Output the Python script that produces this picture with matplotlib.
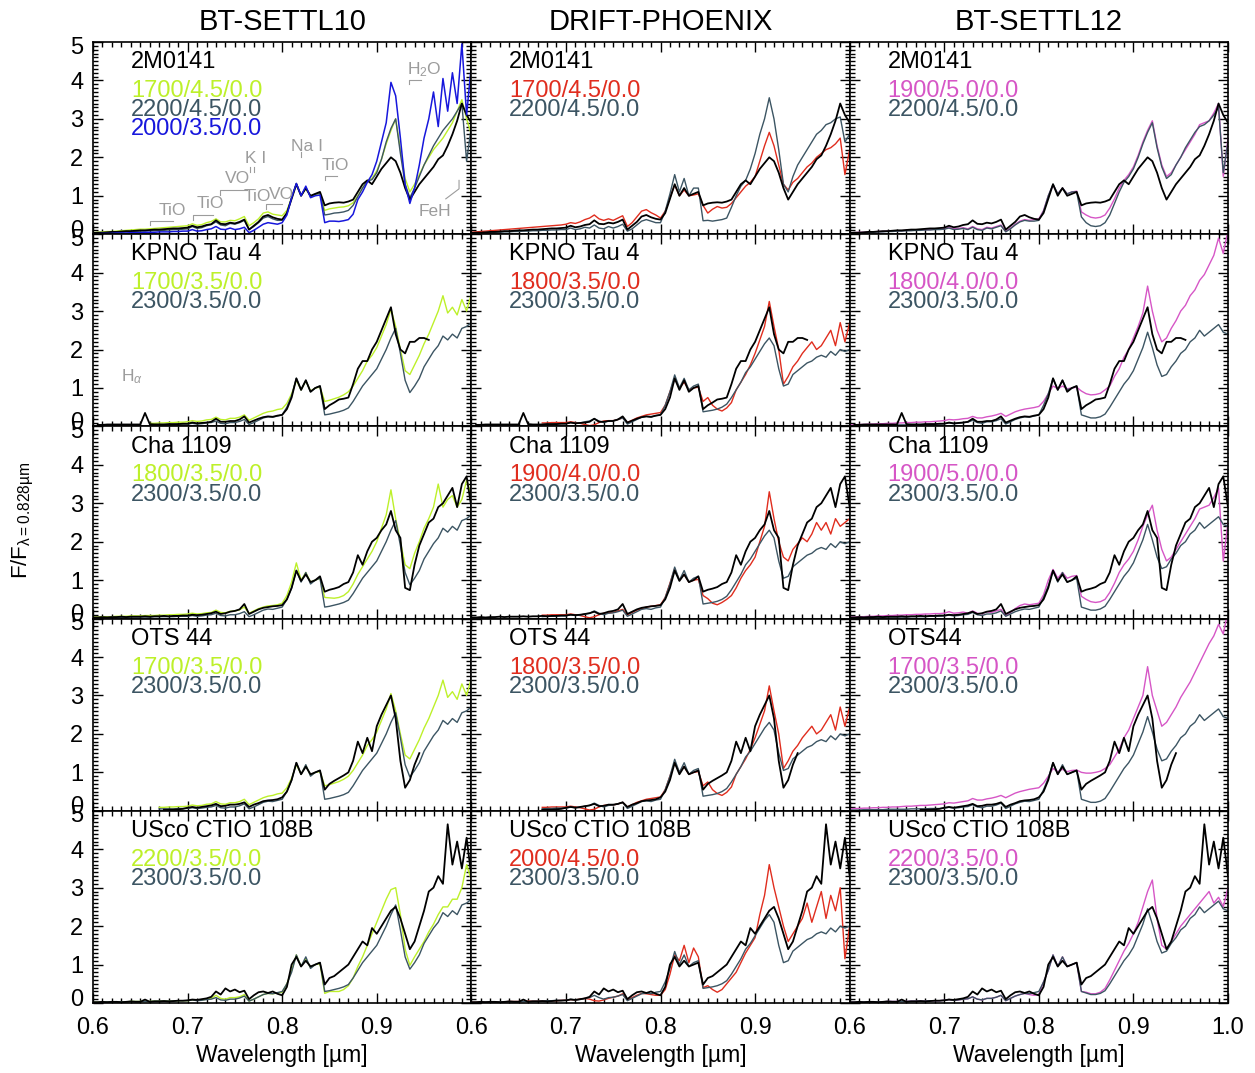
import numpy as np
import matplotlib.pyplot as plt
from matplotlib.ticker import MultipleLocator, FixedLocator
from matplotlib.transforms import ScaledTranslation

plt.rcParams['font.family'] = ['Liberation Sans', 'DejaVu Sans']
plt.rcParams['mathtext.fontset'] = 'custom'
plt.rcParams['mathtext.rm'] = 'Liberation Sans'
plt.rcParams['mathtext.it'] = 'Liberation Sans:italic'

# wavelength grid in micron, fluxes normalised at 0.828 micron
wl = np.round(np.arange(0.600, 1.0001, 0.005), 3)

# ---- observed spectra ----
obs_2m0141 = [0.03, 0.04, 0.04, 0.05, 0.06, 0.06, 0.07, 0.08, 0.08, 0.09,
              0.10, 0.10, 0.11, 0.12, 0.12, 0.13, 0.14, 0.15, 0.15, 0.16,
              0.17, 0.22, 0.18, 0.20, 0.24, 0.26, 0.36, 0.27, 0.26, 0.30,
              0.28, 0.32, 0.38, 0.12, 0.22, 0.32, 0.46, 0.50, 0.44, 0.40,
              0.38, 0.55, 0.92, 1.30, 1.00, 1.20, 1.00, 1.05, 1.10, 0.75,
              0.80, 0.82, 0.83, 0.82, 0.85, 0.90, 1.10, 1.30, 1.40, 1.30,
              1.50, 1.70, 1.85, 2.00, 1.90, 1.60, 1.20, 0.90, 1.10, 1.30,
              1.45, 1.60, 1.75, 1.95, 2.05, 2.30, 2.60, 2.95, 3.40, 3.10,
              2.90]
obs_kpno4 = [0.04, 0.04, 0.04, 0.05, 0.05, 0.05, 0.05, 0.05, 0.05, 0.05,
             0.05, 0.35, 0.06, 0.05, 0.05, 0.05, 0.06, 0.06, 0.06, 0.07,
             0.07, 0.10, 0.08, 0.09, 0.10, 0.12, 0.20, 0.12, 0.12, 0.14,
             0.14, 0.18, 0.26, 0.10, 0.15, 0.20, 0.24, 0.26, 0.25, 0.28,
             0.30, 0.45, 0.75, 1.25, 0.95, 1.20, 0.90, 1.00, 1.05, 0.45,
             0.55, 0.62, 0.70, 0.72, 0.75, 1.10, 1.50, 1.70, 1.70, 2.00,
             2.20, 2.50, 2.80, 3.10, 2.40, 2.00, 1.90, 2.20, 2.20, 2.30,
             2.30, 2.25, 2.30, 2.30, 2.30, 2.30, 2.30, 2.30, 2.30, 2.30,
             2.30]
obs_cha1109 = [0.03, 0.03, 0.04, 0.03, 0.04, 0.04, 0.05, 0.04, 0.05, 0.05,
               0.05, 0.06, 0.05, 0.06, 0.06, 0.07, 0.06, 0.07, 0.07, 0.08,
               0.08, 0.10, 0.09, 0.10, 0.12, 0.14, 0.18, 0.12, 0.14, 0.18,
               0.20, 0.24, 0.38, 0.12, 0.18, 0.24, 0.28, 0.30, 0.32, 0.33,
               0.35, 0.50, 0.80, 1.25, 0.98, 1.15, 0.95, 1.00, 1.10, 0.70,
               0.75, 0.78, 0.82, 0.90, 0.95, 1.20, 1.65, 1.40, 1.75, 2.00,
               2.10, 2.30, 2.45, 2.80, 2.30, 2.10, 0.80, 0.74, 1.40, 1.90,
               2.20, 2.50, 2.60, 2.90, 3.00, 3.20, 3.40, 2.90, 3.50, 3.70,
               2.90]
obs_ots44 = [0.02, 0.02, 0.02, 0.02, 0.02, 0.02, 0.02, 0.02, 0.02, 0.02,
             0.02, 0.02, 0.02, 0.02, 0.02, 0.03, 0.03, 0.03, 0.04, 0.05,
             0.08, 0.10, 0.08, 0.10, 0.12, 0.14, 0.18, 0.12, 0.13, 0.16,
             0.16, 0.18, 0.22, 0.10, 0.16, 0.20, 0.25, 0.27, 0.28, 0.30,
             0.35, 0.50, 0.80, 1.25, 0.95, 1.15, 0.95, 1.00, 1.05, 0.55,
             0.70, 0.78, 0.85, 0.92, 1.00, 1.30, 1.80, 1.50, 1.90, 1.55,
             2.20, 2.50, 2.75, 3.00, 2.40, 1.30, 0.60, 0.80, 1.20, 1.50,
             1.50, 1.50, 1.50, 1.50, 1.50, 1.50, 1.50, 1.50, 1.50, 1.50,
             1.50]
obs_usco108b = [0.02, 0.02, 0.03, 0.02, 0.03, 0.03, 0.02, 0.03, 0.04, 0.03,
                0.03, 0.09, 0.03, 0.04, 0.04, 0.05, 0.04, 0.05, 0.06, 0.06,
                0.07, 0.09, 0.08, 0.10, 0.12, 0.16, 0.30, 0.22, 0.38, 0.30,
                0.35, 0.28, 0.32, 0.10, 0.20, 0.28, 0.30, 0.26, 0.30, 0.24,
                0.20, 0.42, 1.00, 1.20, 0.95, 1.10, 0.95, 1.00, 1.05, 0.48,
                0.65, 0.70, 0.80, 0.90, 1.00, 1.20, 1.40, 1.60, 1.50, 1.95,
                1.80, 2.00, 2.20, 2.40, 2.50, 2.20, 1.80, 1.40, 1.60, 2.00,
                2.40, 2.90, 3.00, 3.30, 3.10, 4.65, 3.60, 4.20, 3.50, 4.30,
                3.30]

# ---- comparison models (dark grey curves) ----
ref2200_settl10 = [0.02, 0.03, 0.03, 0.04, 0.04, 0.05, 0.05, 0.06, 0.06, 0.07,
                   0.08, 0.08, 0.09, 0.09, 0.10, 0.10, 0.11, 0.12, 0.12, 0.13,
                   0.14, 0.20, 0.15, 0.17, 0.22, 0.25, 0.32, 0.24, 0.22, 0.28,
                   0.26, 0.30, 0.36, 0.12, 0.20, 0.30, 0.42, 0.46, 0.40, 0.36,
                   0.36, 0.55, 0.95, 1.32, 1.00, 1.20, 0.98, 1.04, 1.08, 0.50,
                   0.52, 0.55, 0.56, 0.58, 0.62, 0.75, 0.98, 1.20, 1.38, 1.42,
                   1.60, 1.95, 2.40, 2.75, 3.00, 2.10, 1.30, 0.95, 1.20, 1.50,
                   1.80, 2.05, 2.30, 2.50, 2.70, 2.85, 3.00, 3.20, 3.40, 1.90,
                   2.80]
ref2200_drift = [0.02, 0.03, 0.03, 0.04, 0.04, 0.05, 0.05, 0.06, 0.06, 0.07,
                 0.07, 0.08, 0.08, 0.09, 0.09, 0.10, 0.10, 0.11, 0.11, 0.12,
                 0.12, 0.16, 0.12, 0.14, 0.18, 0.16, 0.24, 0.16, 0.14, 0.20,
                 0.16, 0.20, 0.26, 0.08, 0.14, 0.24, 0.34, 0.38, 0.34, 0.30,
                 0.30, 0.60, 1.05, 1.55, 1.10, 1.45, 1.00, 1.20, 1.20, 0.35,
                 0.36, 0.34, 0.36, 0.38, 0.42, 0.70, 1.00, 1.25, 1.40, 1.70,
                 2.10, 2.60, 3.00, 3.55, 3.00, 2.20, 1.30, 1.10, 1.50, 1.80,
                 2.00, 2.20, 2.40, 2.60, 2.70, 2.85, 2.90, 3.00, 3.05, 2.40,
                 2.60]
ref2200_settl12 = [0.03, 0.03, 0.04, 0.04, 0.05, 0.05, 0.06, 0.06, 0.07, 0.07,
                   0.08, 0.08, 0.09, 0.09, 0.10, 0.10, 0.11, 0.11, 0.12, 0.12,
                   0.13, 0.16, 0.12, 0.13, 0.15, 0.12, 0.18, 0.12, 0.10, 0.16,
                   0.14, 0.18, 0.22, 0.06, 0.14, 0.24, 0.32, 0.36, 0.34, 0.34,
                   0.36, 0.60, 1.00, 1.30, 1.05, 1.20, 1.05, 1.10, 1.10, 0.45,
                   0.30, 0.22, 0.20, 0.22, 0.30, 0.50, 0.80, 1.10, 1.35, 1.50,
                   1.70, 2.00, 2.35, 2.65, 2.90, 2.25, 1.75, 1.45, 1.55, 1.80,
                   2.00, 2.25, 2.45, 2.65, 2.80, 2.85, 2.95, 3.10, 3.30, 1.60,
                   2.40]
ref2300_settl10 = [0.02, 0.02, 0.02, 0.03, 0.03, 0.03, 0.03, 0.03, 0.04, 0.04,
                   0.04, 0.04, 0.04, 0.05, 0.05, 0.05, 0.05, 0.05, 0.06, 0.06,
                   0.06, 0.08, 0.06, 0.07, 0.09, 0.10, 0.14, 0.08, 0.07, 0.10,
                   0.10, 0.13, 0.18, 0.05, 0.10, 0.16, 0.22, 0.25, 0.24, 0.27,
                   0.30, 0.50, 0.80, 1.25, 0.95, 1.20, 0.90, 1.00, 1.05, 0.30,
                   0.32, 0.35, 0.38, 0.42, 0.48, 0.65, 0.85, 1.05, 1.20, 1.35,
                   1.50, 1.75, 2.00, 2.30, 2.55, 1.90, 1.20, 0.88, 1.05, 1.25,
                   1.55, 1.75, 1.95, 2.10, 2.35, 2.25, 2.40, 2.30, 2.55, 2.60,
                   2.70]
ref2300_drift = [0.02, 0.02, 0.02, 0.03, 0.03, 0.03, 0.03, 0.03, 0.04, 0.04,
                 0.04, 0.04, 0.04, 0.05, 0.05, 0.05, 0.06, 0.06, 0.07, 0.07,
                 0.07, 0.10, 0.08, 0.09, 0.12, 0.14, 0.20, 0.14, 0.10, 0.14,
                 0.15, 0.18, 0.22, 0.06, 0.12, 0.18, 0.24, 0.26, 0.24, 0.28,
                 0.30, 0.55, 0.90, 1.34, 1.00, 1.25, 0.95, 1.05, 1.10, 0.38,
                 0.40, 0.42, 0.45, 0.50, 0.58, 0.75, 0.95, 1.15, 1.40, 1.55,
                 1.75, 1.95, 2.15, 2.30, 2.10, 1.50, 1.05, 1.10, 1.35, 1.45,
                 1.55, 1.65, 1.70, 1.80, 1.85, 1.80, 1.95, 1.85, 2.00, 1.95,
                 2.00]
ref2300_settl12 = [0.02, 0.02, 0.02, 0.03, 0.03, 0.03, 0.03, 0.03, 0.04, 0.04,
                   0.04, 0.04, 0.04, 0.05, 0.05, 0.05, 0.05, 0.06, 0.06, 0.06,
                   0.07, 0.09, 0.07, 0.08, 0.10, 0.11, 0.16, 0.10, 0.08, 0.12,
                   0.12, 0.15, 0.20, 0.06, 0.12, 0.18, 0.22, 0.25, 0.24, 0.27,
                   0.30, 0.55, 0.85, 1.25, 0.95, 1.20, 0.95, 1.00, 1.05, 0.30,
                   0.26, 0.22, 0.22, 0.25, 0.32, 0.50, 0.70, 0.90, 1.10, 1.25,
                   1.45, 1.75, 2.05, 2.45, 2.05, 1.60, 1.30, 1.35, 1.55, 1.70,
                   1.90, 2.00, 2.20, 2.30, 2.50, 2.35, 2.45, 2.55, 2.65, 2.45,
                   2.40]

# ---- best fits, BT-SETTL10 ----
settl10_1700_45 = [0.04, 0.05, 0.06, 0.07, 0.07, 0.08, 0.09, 0.10, 0.11, 0.12,
                   0.13, 0.13, 0.14, 0.15, 0.16, 0.17, 0.18, 0.19, 0.20, 0.21,
                   0.22, 0.27, 0.23, 0.25, 0.30, 0.33, 0.40, 0.32, 0.32, 0.36,
                   0.35, 0.40, 0.46, 0.22, 0.30, 0.40, 0.55, 0.58, 0.52, 0.50,
                   0.48, 0.62, 0.95, 1.30, 1.00, 1.18, 0.98, 1.02, 1.05, 0.62,
                   0.66, 0.68, 0.70, 0.71, 0.74, 0.82, 1.00, 1.20, 1.40, 1.45,
                   1.65, 1.95, 2.35, 2.70, 3.00, 2.20, 1.45, 1.10, 1.30, 1.55,
                   1.80, 2.00, 2.20, 2.35, 2.50, 2.70, 2.90, 3.20, 3.50, 3.00,
                   2.60]
settl10_2000_35 = [0.01, 0.01, 0.02, 0.02, 0.02, 0.03, 0.03, 0.03, 0.04, 0.04,
                   0.04, 0.05, 0.05, 0.05, 0.06, 0.06, 0.06, 0.07, 0.07, 0.08,
                   0.08, 0.12, 0.08, 0.09, 0.12, 0.14, 0.20, 0.13, 0.12, 0.16,
                   0.12, 0.14, 0.18, 0.04, 0.10, 0.18, 0.26, 0.30, 0.28, 0.26,
                   0.30, 0.50, 0.95, 1.32, 1.00, 1.25, 0.95, 1.00, 1.02, 0.30,
                   0.34, 0.34, 0.33, 0.35, 0.38, 0.52, 0.90, 1.10, 1.35, 1.55,
                   1.90, 2.40, 2.90, 3.95, 3.60, 2.50, 1.30, 0.80, 1.20, 1.80,
                   2.50, 3.00, 3.70, 2.80, 4.05, 3.20, 4.20, 3.40, 4.95, 3.10,
                   4.40]
settl10_1700_35 = [0.04, 0.04, 0.05, 0.05, 0.05, 0.06, 0.06, 0.06, 0.07, 0.07,
                   0.07, 0.08, 0.08, 0.08, 0.09, 0.09, 0.10, 0.10, 0.11, 0.11,
                   0.12, 0.15, 0.13, 0.14, 0.17, 0.18, 0.24, 0.18, 0.17, 0.21,
                   0.21, 0.24, 0.30, 0.16, 0.22, 0.28, 0.34, 0.38, 0.40, 0.44,
                   0.46, 0.60, 0.85, 1.20, 0.95, 1.18, 0.92, 1.00, 1.02, 0.65,
                   0.68, 0.72, 0.76, 0.82, 0.90, 1.05, 1.25, 1.45, 1.70, 1.85,
                   2.05, 2.35, 2.65, 3.05, 2.60, 2.00, 1.45, 1.35, 1.60, 1.85,
                   2.15, 2.40, 2.70, 3.00, 3.40, 2.95, 3.10, 2.90, 3.30, 3.00,
                   3.45]
settl10_1800_35 = [0.04, 0.04, 0.05, 0.05, 0.05, 0.06, 0.06, 0.06, 0.07, 0.07,
                   0.07, 0.08, 0.08, 0.08, 0.09, 0.09, 0.10, 0.10, 0.11, 0.11,
                   0.12, 0.14, 0.12, 0.13, 0.15, 0.16, 0.22, 0.16, 0.15, 0.19,
                   0.20, 0.23, 0.30, 0.14, 0.20, 0.26, 0.30, 0.33, 0.34, 0.36,
                   0.40, 0.60, 0.95, 1.45, 1.00, 1.20, 0.95, 1.00, 1.05, 0.55,
                   0.54, 0.53, 0.55, 0.60, 0.70, 0.90, 1.15, 1.35, 1.55, 1.75,
                   2.00, 2.35, 2.70, 3.35, 2.60, 2.00, 1.40, 1.30, 1.70, 2.00,
                   2.35, 2.60, 2.90, 3.50, 2.90, 3.10, 3.20, 2.90, 3.10, 3.60,
                   3.20]
settl10_2200_35 = [0.02, 0.02, 0.02, 0.03, 0.03, 0.03, 0.03, 0.03, 0.04, 0.04,
                   0.04, 0.04, 0.04, 0.05, 0.05, 0.05, 0.05, 0.05, 0.06, 0.06,
                   0.06, 0.08, 0.07, 0.08, 0.10, 0.12, 0.20, 0.12, 0.10, 0.14,
                   0.14, 0.16, 0.22, 0.05, 0.10, 0.16, 0.22, 0.25, 0.24, 0.26,
                   0.28, 0.50, 0.85, 1.25, 0.95, 1.15, 0.92, 1.00, 1.02, 0.25,
                   0.30, 0.30, 0.30, 0.35, 0.45, 0.65, 0.95, 1.20, 1.50, 1.80,
                   2.10, 2.40, 2.70, 2.95, 3.00, 2.30, 1.40, 0.98, 1.20, 1.40,
                   1.60, 1.85, 2.05, 2.30, 2.50, 2.50, 2.70, 2.70, 3.00, 3.60,
                   3.20]

# ---- best fits, DRIFT-PHOENIX ----
drift_1700_45 = [0.05, 0.06, 0.07, 0.08, 0.09, 0.10, 0.11, 0.12, 0.13, 0.14,
                 0.15, 0.16, 0.17, 0.18, 0.19, 0.20, 0.21, 0.22, 0.23, 0.24,
                 0.26, 0.30, 0.28, 0.32, 0.38, 0.42, 0.50, 0.40, 0.36, 0.40,
                 0.36, 0.42, 0.48, 0.20, 0.30, 0.45, 0.60, 0.64, 0.56, 0.50,
                 0.42, 0.60, 0.95, 1.28, 1.00, 1.15, 1.00, 1.02, 1.05, 0.75,
                 0.55, 0.65, 0.72, 0.68, 0.70, 0.80, 0.95, 1.10, 1.25, 1.35,
                 1.50, 1.90, 2.30, 2.65, 2.30, 1.80, 1.30, 1.15, 1.35, 1.45,
                 1.60, 1.75, 1.85, 2.00, 2.10, 2.20, 2.25, 2.35, 2.50, 1.55,
                 2.20]
drift_1800_35 = [0.04, 0.04, 0.05, 0.05, 0.05, 0.06, 0.06, 0.06, 0.07, 0.07,
                 0.07, 0.08, 0.08, 0.08, 0.09, 0.09, 0.09, 0.10, 0.10, 0.10,
                 0.10, 0.12, 0.10, 0.08, 0.05, 0.02, 0.04, 0.10, 0.14, 0.15,
                 0.15, 0.18, 0.22, 0.10, 0.16, 0.22, 0.26, 0.30, 0.32, 0.34,
                 0.36, 0.55, 0.90, 1.25, 1.00, 1.15, 0.95, 1.00, 1.02, 0.65,
                 0.75, 0.55, 0.45, 0.40, 0.48, 0.62, 0.95, 1.15, 1.35, 1.60,
                 1.90, 2.25, 2.60, 3.25, 2.60, 2.00, 1.10, 1.30, 1.55, 1.70,
                 1.90, 2.05, 2.20, 2.00, 2.10, 2.30, 2.50, 2.10, 2.70, 2.20,
                 2.70]
drift_1900_40 = [0.04, 0.04, 0.05, 0.05, 0.05, 0.06, 0.06, 0.06, 0.07, 0.07,
                 0.07, 0.08, 0.08, 0.08, 0.09, 0.09, 0.09, 0.10, 0.10, 0.10,
                 0.10, 0.12, 0.10, 0.08, 0.05, 0.02, 0.05, 0.10, 0.14, 0.15,
                 0.16, 0.20, 0.24, 0.10, 0.16, 0.22, 0.26, 0.30, 0.32, 0.34,
                 0.36, 0.55, 0.92, 1.30, 1.00, 1.15, 0.95, 1.00, 1.02, 0.60,
                 0.52, 0.40, 0.36, 0.42, 0.50, 0.60, 0.80, 1.05, 1.25, 1.40,
                 1.60, 2.00, 2.40, 3.30, 2.60, 2.00, 1.60, 1.50, 1.80, 1.95,
                 2.10, 2.00, 2.20, 2.50, 2.30, 2.50, 2.20, 2.60, 2.40, 2.50,
                 2.60]
drift_2000_45 = [0.02, 0.02, 0.02, 0.03, 0.03, 0.03, 0.03, 0.03, 0.04, 0.04,
                 0.04, 0.04, 0.05, 0.05, 0.05, 0.05, 0.06, 0.06, 0.06, 0.07,
                 0.07, 0.09, 0.08, 0.10, 0.12, 0.10, 0.06, 0.05, 0.08, 0.12,
                 0.15, 0.18, 0.24, 0.08, 0.14, 0.20, 0.25, 0.24, 0.22, 0.20,
                 0.20, 0.35, 0.75, 1.25, 1.10, 1.50, 1.05, 1.43, 1.20, 0.40,
                 0.45, 0.35, 0.28, 0.35, 0.50, 0.65, 0.80, 1.05, 1.30, 1.50,
                 1.70, 2.30, 2.80, 3.60, 3.00, 2.50, 2.00, 1.60, 1.80, 2.00,
                 2.20, 2.60, 2.10, 2.50, 2.90, 2.20, 2.80, 2.40, 3.00, 1.15,
                 2.00]

# ---- best fits, BT-SETTL12 ----
settl12_1900_50 = [0.04, 0.04, 0.05, 0.05, 0.06, 0.06, 0.07, 0.07, 0.08, 0.08,
                   0.09, 0.09, 0.10, 0.10, 0.11, 0.11, 0.12, 0.12, 0.13, 0.13,
                   0.14, 0.18, 0.14, 0.15, 0.17, 0.14, 0.20, 0.14, 0.12, 0.18,
                   0.16, 0.20, 0.24, 0.08, 0.16, 0.26, 0.34, 0.38, 0.36, 0.38,
                   0.40, 0.62, 1.00, 1.28, 1.05, 1.20, 1.05, 1.10, 1.12, 0.58,
                   0.50, 0.44, 0.42, 0.44, 0.50, 0.68, 0.92, 1.20, 1.40, 1.55,
                   1.75, 2.05, 2.40, 2.70, 2.95, 2.30, 1.80, 1.50, 1.60, 1.80,
                   2.00, 2.20, 2.40, 2.60, 2.85, 2.90, 2.95, 3.15, 3.40, 1.50,
                   2.50]
settl12_1800_40 = [0.04, 0.04, 0.05, 0.05, 0.06, 0.06, 0.07, 0.07, 0.08, 0.08,
                   0.09, 0.09, 0.10, 0.10, 0.11, 0.11, 0.12, 0.12, 0.13, 0.14,
                   0.15, 0.18, 0.17, 0.18, 0.20, 0.21, 0.26, 0.22, 0.22, 0.25,
                   0.27, 0.30, 0.34, 0.26, 0.32, 0.38, 0.42, 0.45, 0.47, 0.49,
                   0.52, 0.65, 0.85, 1.05, 0.98, 1.05, 0.98, 1.00, 1.02, 0.92,
                   0.85, 0.82, 0.83, 0.86, 0.95, 1.05, 1.30, 1.50, 1.80, 2.00,
                   2.30, 2.60, 2.95, 3.65, 3.00, 2.50, 2.20, 2.30, 2.55, 2.75,
                   3.00, 3.15, 3.40, 3.55, 3.80, 3.95, 4.20, 4.45, 4.90, 4.50,
                   5.10]
settl12_1700_35 = [0.05, 0.06, 0.06, 0.07, 0.07, 0.08, 0.08, 0.09, 0.09, 0.10,
                   0.10, 0.11, 0.12, 0.12, 0.13, 0.14, 0.14, 0.15, 0.16, 0.17,
                   0.18, 0.21, 0.20, 0.22, 0.24, 0.26, 0.32, 0.28, 0.28, 0.31,
                   0.33, 0.36, 0.40, 0.34, 0.40, 0.46, 0.50, 0.53, 0.56, 0.58,
                   0.60, 0.72, 0.90, 1.10, 1.02, 1.08, 1.02, 1.05, 1.06, 1.00,
                   0.98, 0.98, 1.00, 1.03, 1.10, 1.20, 1.40, 1.60, 1.90, 2.10,
                   2.40, 2.70, 3.00, 3.75, 3.00, 2.60, 2.20, 2.30, 2.50, 2.70,
                   2.95, 3.15, 3.35, 3.60, 3.85, 4.10, 4.35, 4.55, 4.85, 4.60,
                   5.20]
settl12_2200_35 = [0.02, 0.02, 0.02, 0.03, 0.03, 0.03, 0.03, 0.03, 0.04, 0.04,
                   0.04, 0.04, 0.04, 0.05, 0.05, 0.05, 0.05, 0.06, 0.06, 0.06,
                   0.07, 0.09, 0.07, 0.08, 0.10, 0.11, 0.16, 0.10, 0.08, 0.12,
                   0.12, 0.15, 0.20, 0.06, 0.12, 0.18, 0.22, 0.25, 0.22, 0.20,
                   0.22, 0.55, 0.85, 1.25, 0.95, 1.20, 0.95, 1.00, 1.05, 0.30,
                   0.28, 0.24, 0.24, 0.28, 0.38, 0.60, 0.85, 1.10, 1.35, 1.55,
                   1.80, 2.10, 2.50, 2.90, 3.20, 2.20, 1.50, 1.40, 1.60, 1.80,
                   2.00, 2.15, 2.30, 2.45, 2.60, 2.75, 2.90, 2.60, 2.75, 2.50,
                   3.00]

grids = ['BT-SETTL10', 'DRIFT-PHOENIX', 'BT-SETTL12']
fit_colors = ['#bdf02a', '#e02d1e', '#d656c6']
ref_color = '#3c5563'
blue = '#1717dc'

names = [['2M0141'] * 3,
         ['KPNO Tau 4'] * 3,
         ['Cha 1109'] * 3,
         ['OTS 44', 'OTS 44', 'OTS44'],
         ['USco CTIO 108B'] * 3]
observed = [obs_2m0141, obs_kpno4, obs_cha1109, obs_ots44, obs_usco108b]
obs_range = [(0.600, 1.000), (0.605, 0.955), (0.600, 1.000), (0.675, 0.945), (0.600, 1.000)]
model_start = [[0.600, 0.600, 0.600],
               [0.660, 0.675, 0.600],
               [0.600, 0.675, 0.600],
               [0.670, 0.675, 0.600],
               [0.600, 0.600, 0.600]]

fit_labels = [['1700/4.5/0.0', '1700/4.5/0.0', '1900/5.0/0.0'],
              ['1700/3.5/0.0', '1800/3.5/0.0', '1800/4.0/0.0'],
              ['1800/3.5/0.0', '1900/4.0/0.0', '1900/5.0/0.0'],
              ['1700/3.5/0.0', '1800/3.5/0.0', '1700/3.5/0.0'],
              ['2200/3.5/0.0', '2000/4.5/0.0', '2200/3.5/0.0']]
fit_flux = [[settl10_1700_45, drift_1700_45, settl12_1900_50],
            [settl10_1700_35, drift_1800_35, settl12_1800_40],
            [settl10_1800_35, drift_1900_40, settl12_1900_50],
            [settl10_1700_35, drift_1800_35, settl12_1700_35],
            [settl10_2200_35, drift_2000_45, settl12_2200_35]]
ref_labels = ['2200/4.5/0.0'] + ['2300/3.5/0.0'] * 4
ref2200 = [ref2200_settl10, ref2200_drift, ref2200_settl12]
ref2300 = [ref2300_settl10, ref2300_drift, ref2300_settl12]

# molecular / atomic features marked in the first panel
band_text = ['TiO', 'TiO', 'VO', 'K I', 'TiO', 'VO', 'Na I', 'TiO', 'H$_2$O', 'FeH']
band_x = [0.684, 0.724, 0.753, 0.772, 0.774, 0.799, 0.826, 0.856, 0.950, 0.961]
band_y = [0.61, 0.80, 1.44, 1.98, 0.99, 1.04, 2.27, 1.80, 4.28, 0.59]
bracket_x0 = [0.660, 0.706, 0.734, 0.783, 0.845, 0.934]
bracket_x1 = [0.685, 0.727, 0.763, 0.800, 0.858, 0.947]
bracket_y = [0.35, 0.50, 1.15, 0.78, 1.52, 4.02]
line_x = [0.766, 0.770, 0.820]
line_y = [1.62, 1.62, 2.02]


def cut(flux, lo, hi):
    f = np.array(flux, dtype=float)
    f[(wl < lo - 1e-6) | (wl > hi + 1e-6)] = np.nan
    return f


fig, axes = plt.subplots(5, 3, figsize=(12.55, 10.73), dpi=100,
                         gridspec_kw=dict(hspace=0, wspace=0))
fig.subplots_adjust(left=93 / 1255, right=1228 / 1255,
                    top=1 - 42 / 1073, bottom=1 - 1003 / 1073)

for r in range(5):
    lo, hi = obs_range[r]
    for c in range(3):
        ax = axes[r, c]
        m0 = model_start[r][c]
        ref = ref2200[c] if r == 0 else ref2300[c]
        ax.plot(wl, cut(fit_flux[r][c], m0, 1.0), color=fit_colors[c], lw=1.0)
        ax.plot(wl, cut(ref, m0, 1.0), color=ref_color, lw=1.0)
        ax.plot(wl, cut(observed[r], lo, hi), color='black', lw=1.3)
        if r == 0 and c == 0:
            ax.plot(wl, cut(settl10_2000_35, m0, 1.0), color=blue, lw=1.1)

        ax.text(0.1, 0.895, names[r][c], transform=ax.transAxes,
                fontsize=17, va='center')
        ax.text(0.1, 0.745, fit_labels[r][c], transform=ax.transAxes,
                fontsize=17, va='center', color=fit_colors[c])
        ax.text(0.1, 0.645, ref_labels[r], transform=ax.transAxes,
                fontsize=17, va='center', color=ref_color)
        if r == 0 and c == 0:
            ax.text(0.1, 0.545, '2000/3.5/0.0', transform=ax.transAxes,
                    fontsize=17, va='center', color=blue)

        ax.set_xlim(0.6, 1.0)
        ax.set_ylim(0, 5)
        ax.xaxis.set_major_locator(FixedLocator([0.6, 0.7, 0.8, 0.9, 1.0]))
        ax.xaxis.set_minor_locator(MultipleLocator(0.01))
        ax.yaxis.set_major_locator(FixedLocator([0, 1, 2, 3, 4, 5]))
        ax.yaxis.set_minor_locator(MultipleLocator(0.1))
        ax.tick_params(which='both', direction='in', top=True, right=True,
                       labelsize=17, width=1.0)
        ax.tick_params(which='major', length=7)
        ax.tick_params(which='minor', length=3.5)
        ax.tick_params(axis='x', pad=10)
        ax.tick_params(axis='y', pad=7)
        for s in ax.spines.values():
            s.set_linewidth(1.2)

        if r == 4:
            if c < 2:
                ax.set_xticklabels(['0.6', '0.7', '0.8', '0.9', ''])
            else:
                ax.set_xticklabels(['0.6', '0.7', '0.8', '0.9', '1.0'])
            ax.set_xlabel('Wavelength [µm]', fontsize=16.5, labelpad=4)
        else:
            ax.set_xticklabels([])
        if c == 0:
            ax.set_yticklabels(['0', '1', '2', '3', '4', '5'])
            ticks = ax.yaxis.get_major_ticks()
            ticks[0].label1.set_transform(ticks[0].label1.get_transform() +
                                          ScaledTranslation(0, 6 / 100, fig.dpi_scale_trans))
            ticks[-1].label1.set_transform(ticks[-1].label1.get_transform() +
                                           ScaledTranslation(0, -3 / 100, fig.dpi_scale_trans))
        else:
            ax.set_yticklabels([])
        if r == 0:
            ax.set_title(grids[c], fontsize=21, pad=9)

# feature labels
ax = axes[0, 0]
grey = '#9c9c9c'
for t, x, y in zip(band_text, band_x, band_y):
    ax.text(x, y, t, color=grey, fontsize=12.5, ha='center', va='center')
for x0, x1, y in zip(bracket_x0, bracket_x1, bracket_y):
    ax.plot([x0, x0, x1], [y - 0.12, y, y], color=grey, lw=0.8)
for x, y in zip(line_x, line_y):
    ax.plot([x, x], [y, y + 0.12], color=grey, lw=0.8)
ax.plot([0.973, 0.987, 0.987], [0.92, 1.18, 1.40], color=grey, lw=0.8)
axes[1, 0].text(0.641, 1.3, r'H$_\alpha$', color=grey, fontsize=12.5,
                ha='center', va='center')

fig.text(0.018, 0.515, r'F/F$_{\mathrm{λ=0.828µm}}$', rotation=90,
         fontsize=16, ha='center', va='center')

fig.savefig('out.png', dpi=100)
